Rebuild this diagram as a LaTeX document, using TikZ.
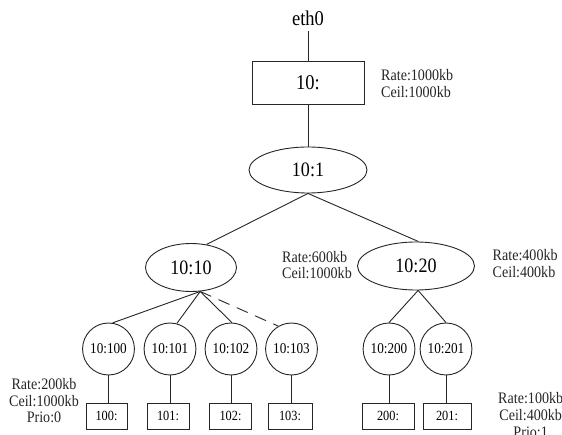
\documentclass[tikz,border=0pt]{standalone}
\usepackage{fontspec}
\setmainfont{Liberation Serif}[FakeStretch=0.88]
\usetikzlibrary{shapes.geometric}

\tikzset{
  wire/.style={draw=black!85, line width=0.9pt},
  qdisc/.style={draw=black!85, line width=0.9pt, rectangle, inner sep=0pt,
    font=\fontsize{21pt}{25pt}\selectfont},
  inner/.style={draw=black!85, line width=0.9pt, ellipse, inner sep=0pt,
    font=\fontsize{20.5pt}{24pt}\selectfont},
  leaf/.style={draw=black!85, line width=0.9pt, ellipse, inner sep=0pt,
    minimum width=47pt, minimum height=52pt,
    font=\fontsize{15pt}{18pt}\selectfont},
  sfq/.style={draw=black!85, line width=0.9pt, rectangle, inner sep=0pt,
    minimum height=26pt, font=\fontsize{14pt}{17pt}\selectfont},
  params/.style={inner sep=0pt, text=black!85,
    font=\fontsize{16pt}{16.7pt}\selectfont},
}

\begin{document}
\begin{tikzpicture}[x=1pt, y=-1pt]
\clip (0,0) rectangle (562,435);
\fill[white] (0,0) rectangle (562,435);

% root qdisc and device
\node[inner sep=5pt, anchor=base, font=\fontsize{21pt}{25pt}\selectfont] (eth0) at (308,26) {eth0};
\node[qdisc, minimum width=112pt, minimum height=43pt] (q10) at (308,83) {10:};

% class tree
\node[inner, minimum width=118pt, minimum height=46pt] (c1) at (308,170) {10:1};
\node[inner, minimum width=91pt, minimum height=48pt] (c10) at (191,267.5) {10:10};
\node[inner, minimum width=117pt, minimum height=48pt] (c20) at (416,266) {10:20};

\node[leaf] (c100) at (108.5,349) {10:100};
\node[leaf] (c101) at (170,349) {10:101};
\node[leaf] (c102) at (231,349) {10:102};
\node[leaf] (c103) at (291.5,349) {10:103};
\node[leaf] (c200) at (389,349) {10:200};
\node[leaf] (c201) at (446,349) {10:201};

% leaf qdiscs
\node[sfq, minimum width=41pt] (s100) at (106.5,416) {100:};
\node[sfq, minimum width=42pt] (s101) at (168,416) {101:};
\node[sfq, minimum width=42pt] (s102) at (230.5,416) {102:};
\node[sfq, minimum width=44pt] (s103) at (290,416) {103:};
\node[sfq, minimum width=52pt] (s200) at (388,416) {200:};
\node[sfq, minimum width=48pt] (s201) at (447,416) {201:};

% rate / ceil annotations
\node[params, align=left, anchor=north west] (p10) at (381,69.1) {Rate:1000kb\\Ceil:1000kb};
\node[params, align=left, anchor=north west] (p1010) at (282,250.8) {Rate:600kb\\Ceil:1000kb};
\node[params, align=left, anchor=north west] (p1020) at (492.5,249.1) {Rate:400kb\\Ceil:400kb};
\node[params, align=center, anchor=north] (p100) at (44,378.1) {Rate:200kb\\Ceil:1000kb\\Prio:0};
\node[params, align=center, anchor=north] (p200) at (530.7,392.4) {Rate:100kb\\Ceil:400kb\\Prio:1};

% connectors
\coordinate (fork10) at (c10.-69);
\draw[wire] (eth0.south) -- (q10.north);
\draw[wire] (q10.south) -- (c1.north);
\draw[wire] (c1.south) -- (c10.56);
\draw[wire] (c1.south) -- (c20.84);
\draw[wire] (fork10) -- (c100.81);
\draw[wire] (fork10) -- (c101.75);
\draw[wire] (fork10) -- (c102.88);
\draw[wire, dash pattern=on 12pt off 8pt] (fork10) -- (c103.120);
\draw[wire] (c20.-85) -- (c200.north);
\draw[wire] (c20.-85) -- (c201.north);
\foreach \n in {100,101,102,103,200,201}
  \draw[wire] (c\n.south) -- (c\n.south |- s\n.north);
\end{tikzpicture}
\end{document}
